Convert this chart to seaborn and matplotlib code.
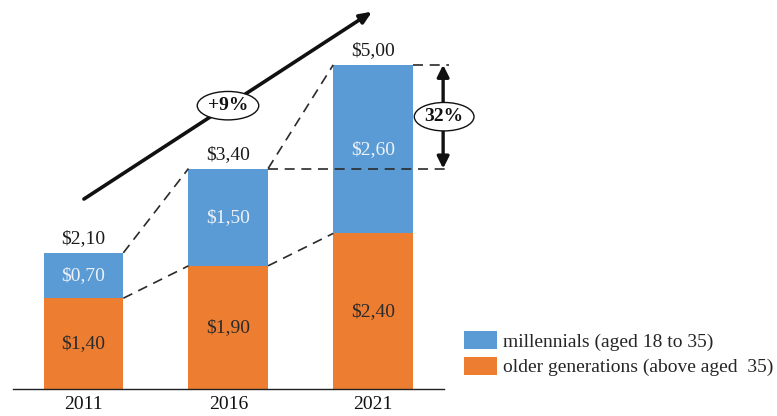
import matplotlib
matplotlib.use("Agg")
import matplotlib.pyplot as plt
import seaborn as sns
import pandas as pd
import numpy as np

# ---- data ----
years = ["2011", "2016", "2021"]
older = [1.40, 1.90, 2.40]
millennials = [0.70, 1.50, 2.60]
totals = [2.10, 3.40, 5.00]
growth_label = "+9%"
share_label = "32%"
legend_labels = ["millennials (aged 18 to 35)", "older generations (above aged  35)"]

BLUE = "#5B9BD5"
ORANGE = "#ED7D31"

sns.set_style("white")
plt.rcParams["font.family"] = ["Liberation Serif", "DejaVu Serif"]

W, H = 777, 416
fig = plt.figure(figsize=(W / 100, H / 100), dpi=100)
# axes: from x=13px to 444px, baseline at y=389px, top at 0
ax = fig.add_axes([13 / W, (H - 389) / H, (444 - 13) / W, 389 / H])

df = pd.DataFrame({"year": years, "older": older, "mill": millennials, "total": totals})
bw = 0.55
sns.barplot(data=df, x="year", y="total", color=BLUE, saturation=1, width=bw, ax=ax,
            label=legend_labels[0], linewidth=0, edgecolor="none")
sns.barplot(data=df, x="year", y="older", color=ORANGE, saturation=1, width=bw, ax=ax,
            label=legend_labels[1], linewidth=0, edgecolor="none")
handles, labels = ax.get_legend_handles_labels()
if ax.get_legend() is not None:
    ax.get_legend().remove()

ax.set_xlim(-0.487, 2.49)
ax.set_ylim(0, 6.0)
for s in ["left", "right", "top"]:
    ax.spines[s].set_visible(False)
ax.spines["bottom"].set_color("#222222")
ax.spines["bottom"].set_linewidth(1.0)
ax.set_yticks([])
ax.set_xlabel("")
ax.set_ylabel("")
fs = 14
ax.tick_params(axis="x", length=0, pad=5, labelsize=fs, labelcolor="#111111")

px = 1 / 64.8  # data units per pixel vertically
for i in range(len(years)):
    ax.text(i, totals[i] + 14 * px, f"${totals[i]:.2f}".replace(".", ","), ha="center", va="center",
            fontsize=fs, color="#1a1a1a")
    ax.text(i, older[i] + millennials[i] / 2, f"${millennials[i]:.2f}".replace(".", ","), ha="center",
            va="center", fontsize=fs, color="#eef2f7")
    ax.text(i, older[i] / 2, f"${older[i]:.2f}".replace(".", ","), ha="center", va="center",
            fontsize=fs, color="#2a2a2a")

# dashed connectors
h = bw / 2
dash = dict(color="#2a2a2a", lw=1.2, ls=(0, (6, 4)), clip_on=False)
for i in range(len(years) - 1):
    ax.plot([i + h, i + 1 - h], [totals[i], totals[i + 1]], **dash)
    ax.plot([i + h, i + 1 - h], [older[i], older[i + 1]], **dash)
xr = 2.525
ax.plot([1 + h, xr], [totals[1], totals[1]], **dash)
ax.plot([2 + h, xr], [totals[2], totals[2]], **dash)

# double arrow for share
ax.annotate("", xy=(2.484, totals[2]), xytext=(2.484, totals[1]), annotation_clip=False,
            arrowprops=dict(arrowstyle="<|-|>,head_length=0.7,head_width=0.35", color="#111111", lw=2.4,
                            shrinkA=0, shrinkB=0))
ax.text(2.491, 4.20, share_label, ha="center", va="center", fontsize=fs, fontweight="bold",
        color="#111111", clip_on=False,
        bbox=dict(boxstyle="ellipse,pad=0.08", fc="white", ec="#111111", lw=1.0))

# growth arrow
ax.annotate("", xy=(1.993, 5.82), xytext=(0.003, 2.93), annotation_clip=False,
            arrowprops=dict(arrowstyle="-|>,head_length=0.7,head_width=0.3", color="#111111", lw=2.6,
                            shrinkA=0, shrinkB=0))
ax.text(0.998, 4.37, growth_label, ha="center", va="center", fontsize=fs, fontweight="bold",
        color="#111111", bbox=dict(boxstyle="ellipse,pad=0.08", fc="white", ec="#111111", lw=1.0))

# legend
leg = fig.legend(handles, labels, loc="upper left", bbox_to_anchor=(464 / W, 1 - 331 / H),
                 frameon=False, fontsize=fs, handlelength=1.7, handleheight=1.05, handletextpad=0.3,
                 labelspacing=0.3, borderpad=0, borderaxespad=0)

fig.savefig("out.png", dpi=100)
